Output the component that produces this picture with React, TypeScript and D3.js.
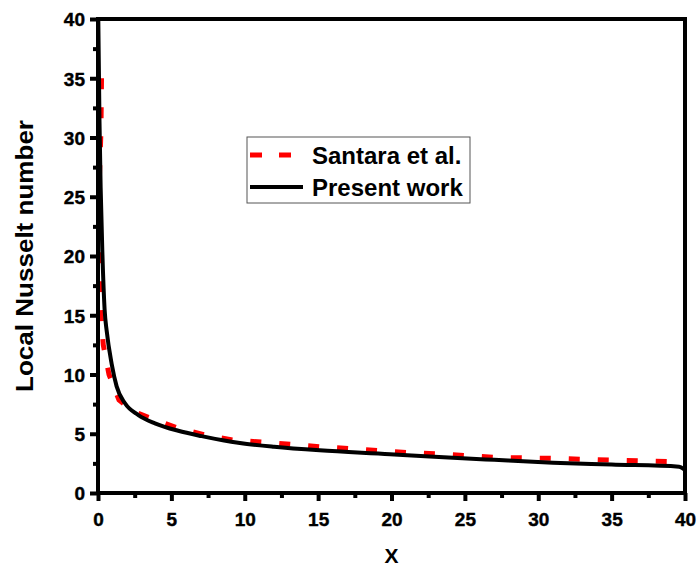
import * as d3 from 'd3';
import React, { useEffect, useRef } from 'react';

// Santara et al. (red dashed)
const santaraX = [0.24, 0.2, 0.08, 0.04, 0.12, 0.2, 0.36, 0.75, 1.43, 2.4, 3.43, 5.3, 7.3, 9.2, 11.3, 13.2, 15.2, 17.2, 19.2, 21.2, 23.2, 25.2, 27.2, 29.2, 31.2, 33.2, 35.2, 37.2, 39.4];
const santaraY = [35, 30.5, 26, 21, 17, 15, 12.5, 10, 7.85, 6.9, 6.39, 5.55, 4.9, 4.47, 4.28, 4.1, 3.9, 3.74, 3.57, 3.4, 3.29, 3.15, 3.0, 2.96, 2.92, 2.84, 2.76, 2.7, 2.64];

// Present work (black solid)
const presentX = [0.02, 0.1, 0.18, 0.3, 0.45, 0.6, 0.93, 1.27, 1.84, 2.75, 3.88, 5.47, 7.06, 8.5, 9.67, 12, 15.1, 19.9, 22.6, 27, 31, 35, 39.6, 40];
const presentY = [40, 31.5, 25.8, 20.2, 15.5, 13.6, 10.9, 9.0, 7.57, 6.58, 5.88, 5.25, 4.8, 4.45, 4.22, 3.9, 3.6, 3.28, 3.08, 2.8, 2.56, 2.4, 2.22, 1.95];

const majorTicks = [0, 5, 10, 15, 20, 25, 30, 35, 40];
const minorTicks = [2.5, 7.5, 12.5, 17.5, 22.5, 27.5, 32.5, 37.5];

const seriesNames = ['Santara et al.', 'Present work'];

const FONT = '"Liberation Sans", Arial, sans-serif';

const App = () => {
  const ref = useRef<SVGSVGElement>(null);

  useEffect(() => {
    const svg = d3.select(ref.current);
    svg.selectAll('*').remove();

    const left = 98, right = 685, top = 19, bottom = 493;
    const x = d3.scaleLinear().domain([0, 40]).range([left, right]);
    const y = d3.scaleLinear().domain([0, 40]).range([bottom, top]);

    svg.append('clipPath').attr('id', 'plotclip')
      .append('rect').attr('x', left).attr('y', top)
      .attr('width', right - left).attr('height', bottom - top);

    const redLine = d3.line<[number, number]>()
      .x(d => x(d[0]))
      .y(d => y(d[1]));
    const blackLine = d3.line<[number, number]>()
      .x(d => x(d[0]))
      .y(d => y(d[1]))
      .curve(d3.curveMonotoneX);

    const red: [number, number][] = santaraX.map((v, i) => [v, santaraY[i]]);
    const black: [number, number][] = presentX.map((v, i) => [v, presentY[i]]);

    const plot = svg.append('g').attr('clip-path', 'url(#plotclip)');
    plot.append('path').datum(red)
      .attr('d', redLine)
      .attr('fill', 'none')
      .attr('stroke', '#ff0000')
      .attr('stroke-width', 5)
      .attr('stroke-dasharray', '11,18');
    plot.append('path').datum(black)
      .attr('d', blackLine)
      .attr('fill', 'none')
      .attr('stroke', '#000')
      .attr('stroke-width', 4);

    // axes
    const xMajor = d3.axisBottom(x).tickValues(majorTicks).tickSize(8).tickFormat(d3.format('d'));
    const xMinor = d3.axisBottom(x).tickValues(minorTicks).tickSize(5).tickFormat(() => '');
    const yMajor = d3.axisLeft(y).tickValues(majorTicks).tickSize(8).tickFormat(d3.format('d'));
    const yMinor = d3.axisLeft(y).tickValues(minorTicks).tickSize(5).tickFormat(() => '');

    const gx = svg.append('g').attr('transform', `translate(0,${bottom})`).call(xMajor);
    svg.append('g').attr('transform', `translate(0,${bottom})`).call(xMinor)
      .call(g => g.select('.domain').remove());
    const gy = svg.append('g').attr('transform', `translate(${left},0)`).call(yMajor);
    svg.append('g').attr('transform', `translate(${left},0)`).call(yMinor)
      .call(g => g.select('.domain').remove());

    gx.select('.domain').remove();
    gy.select('.domain').remove();
    svg.selectAll('.tick line').attr('stroke', '#000').attr('stroke-width', 4);

    gx.selectAll('.tick text')
      .attr('y', 33).attr('dy', null)
      .attr('font-family', FONT).attr('font-size', 19).attr('font-weight', 'bold')
      .attr('fill', '#000').attr('stroke', '#000').attr('stroke-width', 0.4);
    gy.selectAll('.tick text')
      .attr('x', -13).attr('dy', '0.36em')
      .attr('font-family', FONT).attr('font-size', 19).attr('font-weight', 'bold')
      .attr('fill', '#000').attr('stroke', '#000').attr('stroke-width', 0.4);

    // frame
    svg.append('rect')
      .attr('x', left).attr('y', top)
      .attr('width', right - left).attr('height', bottom - top)
      .attr('fill', 'none').attr('stroke', '#000').attr('stroke-width', 4);

    // axis titles
    svg.append('text')
      .attr('x', (left + right) / 2).attr('y', 563)
      .attr('text-anchor', 'middle')
      .style('font-family', FONT).style('font-size', '21px').style('font-weight', 'bold')
      .text('X');
    svg.append('text')
      .attr('transform', `translate(33,${(top + bottom) / 2}) rotate(-90)`)
      .attr('text-anchor', 'middle')
      .attr('textLength', 272).attr('lengthAdjust', 'spacingAndGlyphs')
      .style('font-family', FONT).style('font-size', '24px').style('font-weight', 'bold')
      .text('Local Nusselt number');

    // legend
    const lg = svg.append('g');
    lg.append('rect')
      .attr('x', 247).attr('y', 137).attr('width', 223).attr('height', 66)
      .attr('fill', '#fff').attr('stroke', '#555').attr('stroke-width', 1);
    const rows = [
      { name: seriesNames[0], color: '#ff0000', dash: '12,17', w: 5, y: 155, x2: 292 },
      { name: seriesNames[1], color: '#000', dash: null, w: 4, y: 187, x2: 303 },
    ];
    rows.forEach(r => {
      lg.append('line')
        .attr('x1', 250).attr('x2', r.x2).attr('y1', r.y).attr('y2', r.y)
        .attr('stroke', r.color).attr('stroke-width', r.w)
        .attr('stroke-dasharray', r.dash);
      lg.append('text')
        .attr('x', 312).attr('y', r.y).attr('dy', '0.36em')
        .style('font-family', FONT).style('font-size', '24px').style('font-weight', 'bold')
        .text(r.name);
    });
  }, []);

  return (
    <svg ref={ref} width={697} height={568}
      style={{ position: 'absolute', left: 0, top: 0, background: '#fff' }} />
  );
};

export default App;
